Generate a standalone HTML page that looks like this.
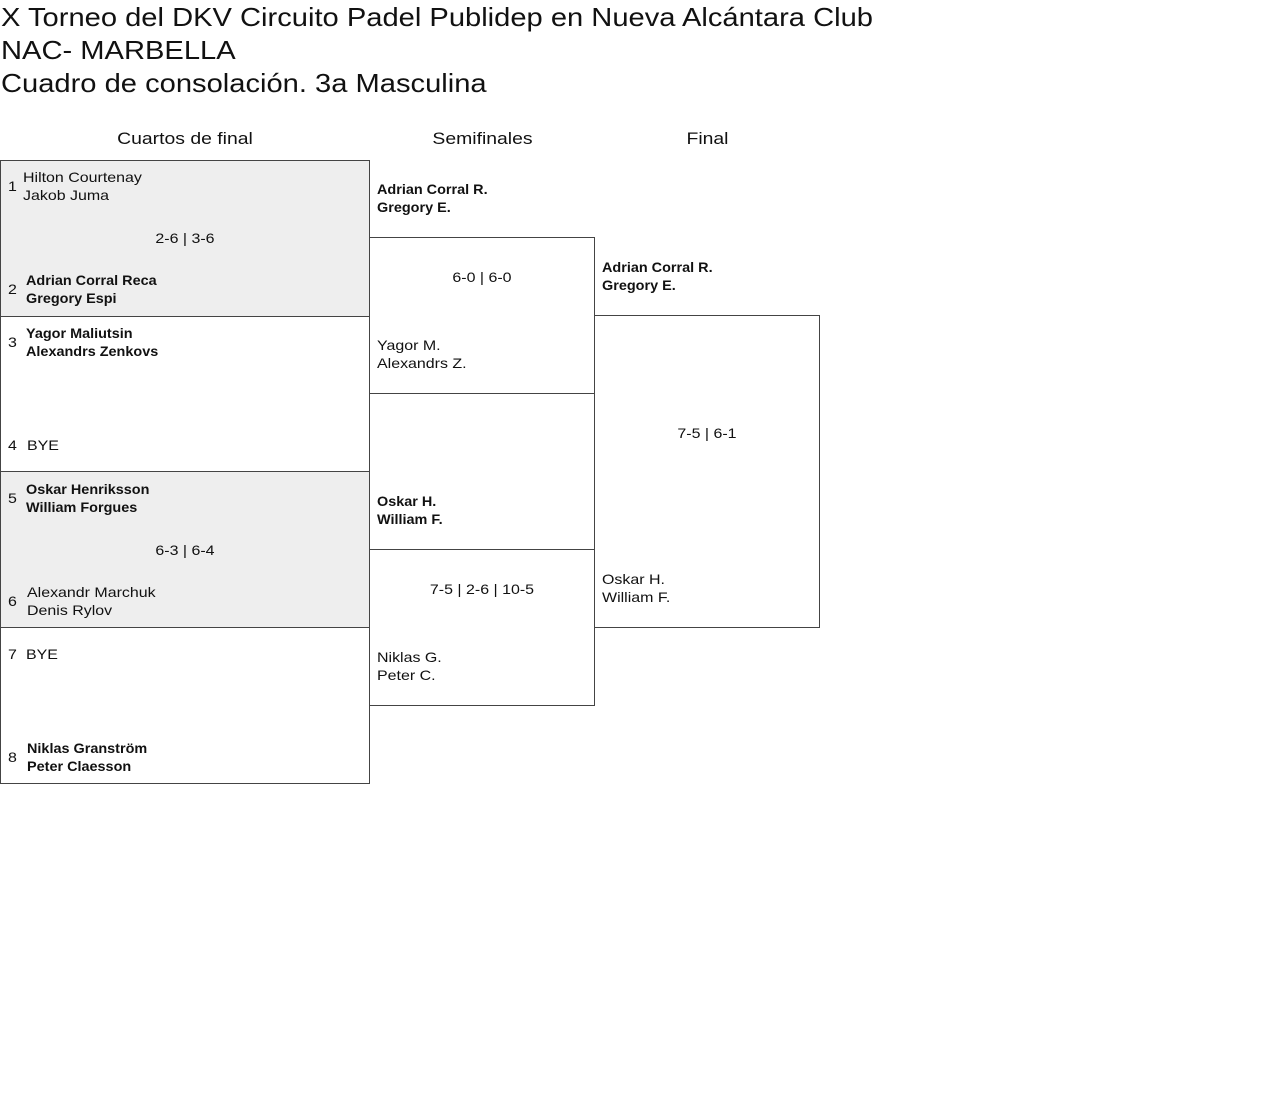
<!DOCTYPE html>
<html><head><meta charset="utf-8"><style>
body{margin:0;width:1280px;height:1114px;background:#fff;font-family:"Liberation Sans",sans-serif;color:#111;position:relative;overflow:hidden}
.a{position:absolute;white-space:nowrap;transform:scaleX(1.14);transform-origin:0 0}
.c{transform-origin:50% 0}
.t{font-size:26px;left:1px;line-height:33px;transform:scaleX(1.12)}
.h{font-size:17px;top:129px;text-align:center;transform-origin:50% 0}
.box{position:absolute;border:1px solid #444;box-sizing:border-box}
.g{background:#eee}
.s{font-size:14px;line-height:18px}
.b{font-weight:bold;transform:scaleX(1.03)}
</style></head><body>
<div class="a t" style="top:1px">X Torneo del DKV Circuito Padel Publidep en Nueva Alcántara Club</div>
<div class="a t" style="top:34px">NAC- MARBELLA</div>
<div class="a t" style="top:67px">Cuadro de consolación. 3a Masculina</div>
<div class="a h" style="left:0;width:370px">Cuartos de final</div>
<div class="a h" style="left:370px;width:225px">Semifinales</div>
<div class="a h" style="left:595px;width:225px">Final</div>

<div class="box g" style="left:0;top:160px;width:370px;height:157px"></div>
<div class="box" style="left:0;top:316px;width:370px;height:157px"></div>
<div class="box g" style="left:0;top:471px;width:370px;height:157px"></div>
<div class="box" style="left:0;top:627px;width:370px;height:157px"></div>
<div class="box" style="left:369px;top:237px;width:226px;height:157px"></div>
<div class="box" style="left:369px;top:549px;width:226px;height:157px"></div>
<div class="box" style="left:594px;top:315px;width:226px;height:313px"></div>

<div class="a s" style="left:8px;top:177px">1</div>
<div class="a s" style="left:23px;top:168px">Hilton Courtenay<br>Jakob Juma</div>
<div class="a s c" style="left:0;width:370px;text-align:center;top:229px">2-6 | 3-6</div>
<div class="a s" style="left:8px;top:280px">2</div>
<div class="a s b" style="left:26px;top:271px">Adrian Corral Reca<br>Gregory Espi</div>
<div class="a s" style="left:8px;top:333px">3</div>
<div class="a s b" style="left:26px;top:324px">Yagor Maliutsin<br>Alexandrs Zenkovs</div>
<div class="a s" style="left:8px;top:436px">4</div>
<div class="a s" style="left:27px;top:436px">BYE</div>
<div class="a s" style="left:8px;top:489px">5</div>
<div class="a s b" style="left:26px;top:480px">Oskar Henriksson<br>William Forgues</div>
<div class="a s c" style="left:0;width:370px;text-align:center;top:541px">6-3 | 6-4</div>
<div class="a s" style="left:8px;top:592px">6</div>
<div class="a s" style="left:27px;top:583px">Alexandr Marchuk<br>Denis Rylov</div>
<div class="a s" style="left:8px;top:645px">7</div>
<div class="a s" style="left:26px;top:645px">BYE</div>
<div class="a s" style="left:8px;top:748px">8</div>
<div class="a s b" style="left:27px;top:739px">Niklas Granström<br>Peter Claesson</div>

<div class="a s b" style="left:377px;top:180px">Adrian Corral R.<br>Gregory E.</div>
<div class="a s c" style="left:369px;width:226px;text-align:center;top:268px">6-0 | 6-0</div>
<div class="a s" style="left:377px;top:336px">Yagor M.<br>Alexandrs Z.</div>
<div class="a s b" style="left:377px;top:492px">Oskar H.<br>William F.</div>
<div class="a s c" style="left:369px;width:226px;text-align:center;top:580px">7-5 | 2-6 | 10-5</div>
<div class="a s" style="left:377px;top:648px">Niklas G.<br>Peter C.</div>

<div class="a s b" style="left:602px;top:258px">Adrian Corral R.<br>Gregory E.</div>
<div class="a s c" style="left:594px;width:226px;text-align:center;top:424px">7-5 | 6-1</div>
<div class="a s" style="left:602px;top:570px">Oskar H.<br>William F.</div>
</body></html>
